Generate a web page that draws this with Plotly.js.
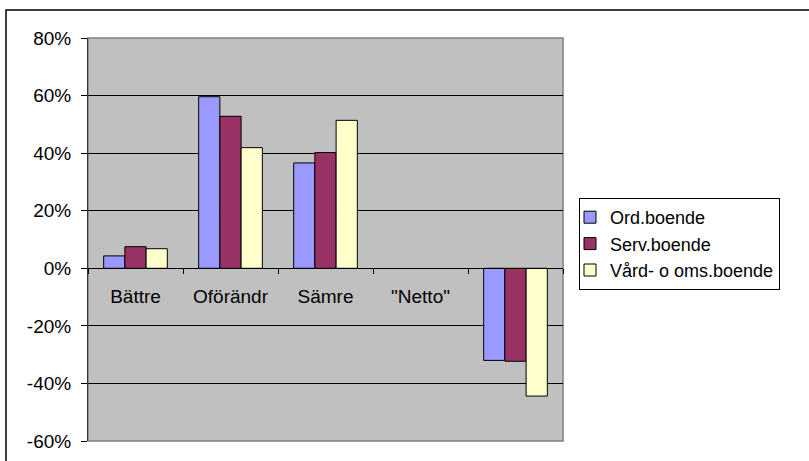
<!DOCTYPE html>
<html>
<head>
<meta charset="utf-8">
<script src="https://cdn.plot.ly/plotly-3.0.1.min.js"></script>
<style>html,body{margin:0;padding:0;background:#fff;}#chart{width:809px;height:461px;}</style>
</head>
<body>
<div id="chart"></div>
<script>
var categories = ['Bättre', 'Oförändr', 'Sämre', '"Netto"', ' '];
var seriesNames = ['Ord.boende', 'Serv.boende', 'Vård- o oms.boende'];
var ordBoende  = [4.3, 59.6, 36.6, null, -32.0];
var servBoende = [7.5, 52.8, 40.2, null, -32.3];
var vardBoende = [6.8, 41.9, 51.4, null, -44.4];
var seriesColors = ['#9999FF', '#993366', '#FFFFCC'];
var yTicks = [-60, -40, -20, 0, 20, 40, 60, 80];
var yTickLabels = ['-60%', '-40%', '-20%', '0%', '20%', '40%', '60%', '80%'];

var font = 'Liberation Sans, Arial, sans-serif';
var allValues = [ordBoende, servBoende, vardBoende];
var traces = allValues.map(function (vals, i) {
  return {
    type: 'bar', x: categories, y: vals, name: seriesNames[i],
    marker: {color: seriesColors[i], line: {color: '#000', width: 1}},
    hoverinfo: 'skip'
  };
});

// plot area in pixels: left 88, right 563, top 38, bottom 441
var L = 88, R = 563, T = 38, B = 441;
function px(x) { return (x - L) / (R - L); }
function py(y) { return (B - y) / (B - T); }

var layout = {
  width: 809, height: 461,
  margin: {l: L, r: 809 - R, t: T, b: 461 - B, autoexpand: false},
  paper_bgcolor: '#fff', plot_bgcolor: '#C0C0C0',
  barmode: 'group', bargap: 0.33, bargroupgap: 0,
  showlegend: true,
  font: {family: font, size: 19, color: '#000'},
  xaxis: {
    type: 'category', anchor: 'free', position: 60 / 140,
    showline: true, linecolor: '#000', linewidth: 1,
    ticks: 'outside', ticklen: 5, tickcolor: '#000', tickson: 'boundaries',
    showgrid: false, zeroline: false,
    ticklabelstandoff: 11,
    tickfont: {family: font, size: 19, color: '#000'}
  },
  yaxis: {
    range: [-60, 80], tickmode: 'array', tickvals: yTicks, ticktext: yTickLabels,
    showline: true, linecolor: '#333', linewidth: 1,
    ticks: 'outside', ticklen: 6, tickcolor: '#000',
    showgrid: true, gridcolor: '#000', gridwidth: 1,
    zeroline: true, zerolinecolor: '#000', zerolinewidth: 1,
    ticklabelstandoff: 6,
    tickfont: {family: font, size: 19, color: '#000'}
  },
  legend: {
    x: px(579), xanchor: 'left', y: py(198), yanchor: 'top',
    bgcolor: '#fff', bordercolor: '#000', borderwidth: 1,
    font: {family: font, size: 18, color: '#000'},
    indentation: -10,
    traceorder: 'normal'
  },
  shapes: [
    {type: 'rect', xref: 'paper', yref: 'paper', x0: 0, x1: 1, y0: 0, y1: 1,
     line: {color: '#808080', width: 1.5}, fillcolor: 'rgba(0,0,0,0)', layer: 'below'},
    {type: 'rect', xref: 'paper', yref: 'paper', x0: px(6), x1: px(820), y0: py(475), y1: py(10),
     line: {color: '#000', width: 1.5}, fillcolor: 'rgba(0,0,0,0)'}
  ]
};

Plotly.newPlot('chart', traces, layout, {staticPlot: true, displayModeBar: false});
</script>
</body>
</html>
